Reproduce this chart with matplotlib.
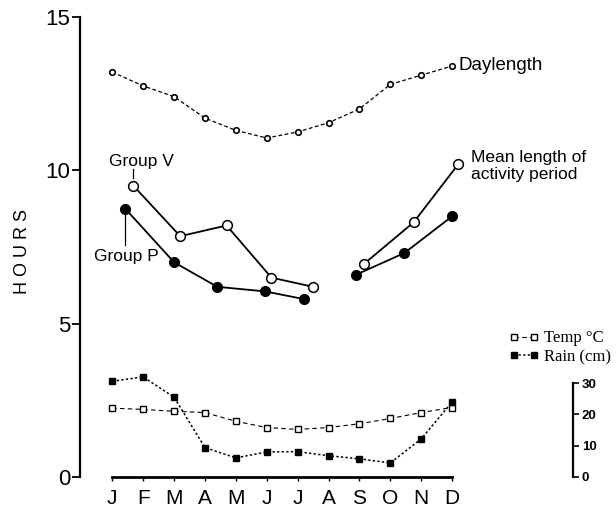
import numpy as np
import matplotlib
matplotlib.use("Agg")
import matplotlib.pyplot as plt

months = ['J', 'F', 'M', 'A', 'M', 'J', 'J', 'A', 'S', 'O', 'N', 'D']
month_pos = np.arange(12)

# hours of daylight per month
daylength = [13.2, 12.75, 12.4, 11.7, 11.3, 11.05, 11.25, 11.55, 12.0, 12.8, 13.1, 13.4]

# mean length of activity period (hours), sampled between months
group_v_x = [0.68, 2.2, 3.7, 5.15, 6.5, 8.15, 9.75, 11.2]
group_v = [9.5, 7.85, 8.2, 6.5, 6.2, 6.95, 8.3, 10.2]
group_p_x = [0.42, 2.0, 3.4, 4.95, 6.2, 7.9, 9.45, 11.0]
group_p = [8.75, 7.0, 6.2, 6.05, 5.8, 6.6, 7.3, 8.5]

# climate, right hand scale
temp_c = [22.0, 21.6, 21.0, 20.6, 17.8, 15.8, 15.2, 15.8, 17.0, 18.7, 20.6, 22.2]
rain_cm = [30.6, 32.0, 25.5, 9.4, 6.1, 8.0, 8.1, 6.8, 5.8, 4.5, 12.2, 24.0]

sans = ['Liberation Sans', 'DejaVu Sans']
narrow = ['Liberation Sans Narrow', 'Liberation Sans', 'DejaVu Sans']
serif = ['Liberation Serif', 'DejaVu Serif']

fig = plt.figure(figsize=(6.16, 5.09), dpi=100)
ax = fig.add_axes([0.130, 0.0629, 0.870, 0.922])

ax.plot(month_pos, daylength, color='black', ls=(0, (3, 2)), lw=0.9,
        marker='o', ms=4, mfc='white', mec='black', mew=1.2)
ax.plot(group_v_x[:5], group_v[:5], color='black', lw=1.3,
        marker='o', ms=7, mfc='white', mec='black', mew=1.1)
ax.plot(group_v_x[5:], group_v[5:], color='black', lw=1.3,
        marker='o', ms=7, mfc='white', mec='black', mew=1.1)
ax.plot(group_p_x[:5], group_p[:5], color='black', lw=1.3,
        marker='o', ms=7, mfc='black', mec='black')
ax.plot(group_p_x[5:], group_p[5:], color='black', lw=1.3,
        marker='o', ms=7, mfc='black', mec='black')

ax.set_xlim(-1.04, 16.3)
ax.set_ylim(0, 15.3)
ax.set_xticks(month_pos)
ax.set_xticklabels(months, fontsize=15, family=sans)
ax.set_yticks([0, 5, 10, 15])
ax.set_yticklabels(['0', '5', '10', '15'], fontsize=16, family=narrow)
ax.tick_params(axis='y', length=6, width=1.3, pad=1)
ax.tick_params(axis='x', length=3, width=1, pad=6)
for s in ['top', 'right']:
    ax.spines[s].set_visible(False)
ax.spines['left'].set_bounds(0, 15)
ax.spines['left'].set_linewidth(1.6)
ax.spines['bottom'].set_bounds(0, 11)
ax.spines['bottom'].set_linewidth(2)
ax.set_ylabel('H O U R S', fontsize=13, family=sans)
ax.yaxis.set_label_coords(-0.092, 0.48)

# labels and leader lines
ax.text(11.2, 13.4, 'Daylength', fontsize=13.5, family=sans, va='center')
ax.text(-0.1, 10.3, 'Group V', fontsize=12.5, family=sans, va='center')
ax.plot([0.68, 0.68], [9.75, 10.05], color='black', lw=0.9)
ax.text(-0.6, 7.2, 'Group P', fontsize=12.5, family=sans, va='center')
ax.plot([0.42, 0.42], [7.55, 8.55], color='black', lw=0.9)
ax.text(11.6, 10.15, 'Mean length of\nactivity period', fontsize=12.5,
        family=sans, va='center', linespacing=1.15)

ax2 = ax.twinx()
ax2.set_ylim(0, 150)
ax2.plot(month_pos, temp_c, color='black', ls=(0, (4, 3)), lw=0.8,
         marker='s', ms=5, mfc='white', mec='black', mew=1, label='Temp °C')
ax2.plot(month_pos, rain_cm, color='black', ls=(0, (1.5, 1.5)), lw=1.1,
         marker='s', ms=5, mfc='black', mec='black', label='Rain (cm)')
for s in ['top', 'left', 'bottom']:
    ax2.spines[s].set_visible(False)
ax2.spines['right'].set_position(('data', 14.92))
ax2.spines['right'].set_bounds(0, 30)
ax2.spines['right'].set_linewidth(1.6)
ax2.set_yticks([0, 10, 20, 30])
ax2.set_yticklabels(['0', '10', '20', '30'], fontsize=9.5,
                    fontweight='bold', family=sans)
ax2.tick_params(axis='y', length=4, width=1.2, pad=2)

leg = ax2.legend(loc='upper left', bbox_to_anchor=(0.785, 0.33),
                 frameon=False, handlelength=1.8, handletextpad=0.3,
                 labelspacing=0.15, borderpad=0, numpoints=2,
                 prop={'family': serif, 'size': 12})

fig.savefig('out.png', dpi=100)
